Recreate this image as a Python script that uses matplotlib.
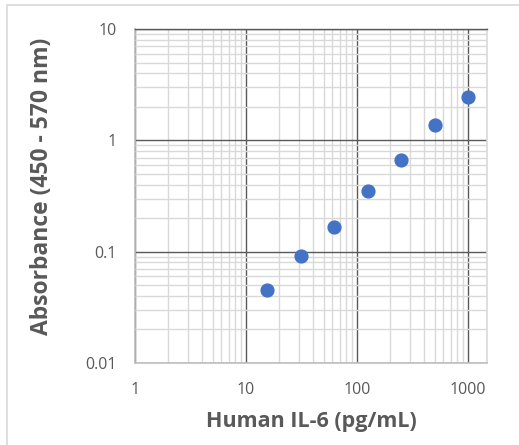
import numpy as np
import matplotlib
matplotlib.use("Agg")
from matplotlib import pyplot as plt
from matplotlib.patches import Rectangle
from matplotlib.ticker import LogLocator, FixedLocator, FixedFormatter, NullFormatter

# Standard curve data
concentration = [15.6, 31.25, 62.5, 125, 250, 500, 1000]
absorbance = [0.0452, 0.0913, 0.165, 0.350, 0.665, 1.37, 2.45]

x_ticks = [1, 10, 100, 1000]
x_tick_labels = ["1", "10", "100", "1000"]
y_ticks = [0.01, 0.1, 1, 10]
y_tick_labels = ["0.01", "0.1", "1", "10"]

W, H = 519, 445
fig = plt.figure(figsize=(W / 100, H / 100), dpi=100)
plt.rcParams["font.family"] = ["Open Sans", "DejaVu Sans"]

# Chart area border (extends past the image on right/bottom)
fig.patches.append(Rectangle((7 / W, -0.1), 1.2, 1.1 - 5 / H, transform=fig.transFigure,
                             fill=False, edgecolor="#D9D9D9", linewidth=1.2))

left, right, top, bottom = 135, 487, 29, 363
ax = fig.add_axes([left / W, 1 - bottom / H, (right - left) / W, (bottom - top) / H])

ax.set_xscale("log")
ax.set_yscale("log")
ax.set_xlim(1, 1480)
ax.set_ylim(0.01, 10)

ax.xaxis.set_major_locator(FixedLocator(x_ticks))
ax.xaxis.set_major_formatter(FixedFormatter(x_tick_labels))
ax.yaxis.set_major_locator(FixedLocator(y_ticks))
ax.yaxis.set_major_formatter(FixedFormatter(y_tick_labels))
ax.xaxis.set_minor_locator(LogLocator(base=10, subs=np.arange(2, 10), numticks=20))
ax.yaxis.set_minor_locator(LogLocator(base=10, subs=np.arange(2, 10), numticks=20))
ax.xaxis.set_minor_formatter(NullFormatter())
ax.yaxis.set_minor_formatter(NullFormatter())

ax.grid(which="minor", color="#D9D9D9", linewidth=1.0)
ax.grid(which="major", color="#595959", linewidth=1.0)
ax.set_axisbelow(True)

for side in ["left", "bottom", "right"]:
    ax.spines[side].set_color("#BFBFBF")
    ax.spines[side].set_linewidth(1.2)
ax.spines["right"].set_color("#D9D9D9")
ax.spines["top"].set_color("#595959")
ax.spines["top"].set_linewidth(1.0)

ax.tick_params(which="both", length=0, labelsize=11.5, labelcolor="#595959")
ax.tick_params(axis="x", pad=14)
ax.tick_params(axis="y", pad=13)

ax.scatter(concentration, absorbance, s=85, color="#4472C4", zorder=3, clip_on=False)

ax.set_xlabel("Human IL-6 (pg/mL)", fontsize=15.5, fontweight="bold", color="#595959", va="center")
ax.set_ylabel("Absorbance (450 - 570 nm)", fontsize=16.5, fontweight="bold", color="#595959", va="center")
ax.xaxis.set_label_coords((311 - left) / (right - left), -(422 - bottom) / (bottom - top))
ax.yaxis.set_label_coords((42 - left) / (right - left), (bottom - 186) / (bottom - top))

fig.savefig("out.png", dpi=100)
